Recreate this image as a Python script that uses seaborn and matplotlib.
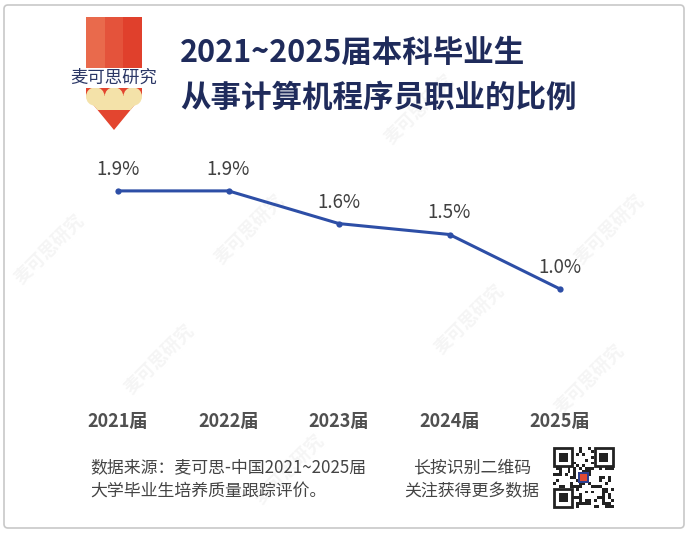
import numpy as np
import pandas as pd
import seaborn as sns
import matplotlib.pyplot as plt
from matplotlib.patches import Rectangle, Polygon, Circle, FancyBboxPatch

# data
years = ['2021届', '2022届', '2023届', '2024届', '2025届']
share = [1.9, 1.9, 1.6, 1.5, 1.0]
share_labels = ['1.9%', '1.9%', '1.6%', '1.5%', '1.0%']

title_lines = ['2021~2025届本科毕业生', '从事计算机程序员职业的比例']
source_lines = ['数据来源：麦可思-中国2021~2025届', '大学毕业生培养质量跟踪评价。']
qr_lines = ['长按识别二维码', '关注获得更多数据']

sns.set_style('white')
plt.rcParams['font.family'] = ['Noto Sans CJK SC', 'DejaVu Sans']

df = pd.DataFrame({'year': years, 'share': share})

fig = plt.figure(figsize=(6.88, 5.34), dpi=100)
fig.patch.set_facecolor('white')

# overlay in pixel coordinates for the decorations
deco = fig.add_axes([0, 0, 1, 1], zorder=0)
deco.set_xlim(0, 688)
deco.set_ylim(534, 0)
deco.axis('off')

# frame
deco.add_patch(FancyBboxPatch((4, 5), 680, 523, boxstyle='round,pad=0,rounding_size=4',
                              fill=False, ec='#c8c8c8', lw=1.2))

# faint watermarks
for (wx, wy) in [(50, 250), (250, 230), (420, 110), (610, 230), (290, 470), (590, 380), (160, 360), (470, 320)]:
    deco.text(wx, wy, '麦可思研究', color='#f5f5f5', fontsize=13, rotation=45,
              ha='center', va='center', fontweight='bold')

# logo: pencil
for x0, c in zip([86, 104.7, 123.3], ['#e96a4c', '#e4533b', '#e0402c']):
    deco.add_patch(Rectangle((x0, 17), 18.7, 53, color=c, lw=0))
deco.text(113.5, 78, '麦可思研究', color='#2b3766', fontsize=12.5, ha='center', va='center',
          bbox=dict(fc='white', ec='none', pad=0.5))
deco.add_patch(Polygon([(86, 87), (142, 87), (142, 96), (114, 130), (86, 96)],
                       closed=True, color='#e3452f', lw=0))
deco.add_patch(Polygon([(86, 96), (142, 96), (130.5, 110), (97.5, 110)],
                       closed=True, color='#f4e2a9', lw=0))
for cx in [95.3, 114, 132.7]:
    deco.add_patch(Circle((cx, 96.5), 9.3, color='#f4e2a9', lw=0))

# title
for i, line in enumerate(title_lines):
    deco.text(180, 53 + i * 45, line, color='#1f2b5b', fontsize=22, fontweight='bold',
              ha='left', va='center')

# footer
deco.text(90, 467, source_lines[0], color='#444444', fontsize=12.2, ha='left', va='center')
deco.text(90, 491, source_lines[1], color='#444444', fontsize=12.2, ha='left', va='center')
deco.text(472, 467, qr_lines[0], color='#444444', fontsize=12.2, ha='center', va='center')
deco.text(472, 491, qr_lines[1], color='#444444', fontsize=12.2, ha='center', va='center')

# qr code block
qx, qy, qs, n = 553, 447, 61, 21
cell = qs / n
for i in range(n):
    for j in range(n):
        if ((i * 7 + j * 13) ^ (i * j)) % 3 == 0:
            deco.add_patch(Rectangle((qx + j * cell, qy + i * cell), cell, cell, color='#222222', lw=0))
for fx, fy in [(0, 0), (n - 7, 0), (0, n - 7)]:
    deco.add_patch(Rectangle((qx + fx * cell, qy + fy * cell), 7 * cell, 7 * cell, color='white', lw=0))
    deco.add_patch(Rectangle((qx + (fx + 0.5) * cell, qy + (fy + 0.5) * cell), 6 * cell, 6 * cell,
                             fill=False, ec='#222222', lw=2))
    deco.add_patch(Rectangle((qx + (fx + 2) * cell, qy + (fy + 2) * cell), 3 * cell, 3 * cell,
                             color='#222222', lw=0))
deco.add_patch(Rectangle((qx + 8.5 * cell, qy + 8.5 * cell), 4 * cell, 4 * cell, color='#2c3e8f', lw=0))
deco.add_patch(Rectangle((qx + 9.3 * cell, qy + 9.3 * cell), 2.4 * cell, 2.4 * cell, color='#e04a33', lw=0))

# the line chart
ax = fig.add_axes([62.75 / 688, (534 - 398) / 534, 552.5 / 688, 2.4 * 109 / 534], zorder=1)
ax.patch.set_alpha(0)
sns.lineplot(data=df, x='year', y='share', ax=ax, color='#2d4ea6', linewidth=2.2,
             marker='o', markersize=4.5, markeredgewidth=0, sort=False)
ax.set_xlim(-0.5, 4.5)
ax.set_ylim(0, 2.4)
for i, (v, lab) in enumerate(zip(share, share_labels)):
    ax.annotate(lab, (i, v), xytext=(0, 15.5), textcoords='offset points',
                ha='center', va='center', fontsize=13.5, color='#404040')
ax.set_xlabel('')
ax.set_ylabel('')
ax.set_yticks([])
ax.tick_params(axis='x', length=0, pad=10, labelsize=13, labelcolor='#505050')
for t in ax.get_xticklabels():
    t.set_fontweight('bold')
sns.despine(ax=ax, left=True, bottom=True)

fig.savefig('out.png', dpi=100)
